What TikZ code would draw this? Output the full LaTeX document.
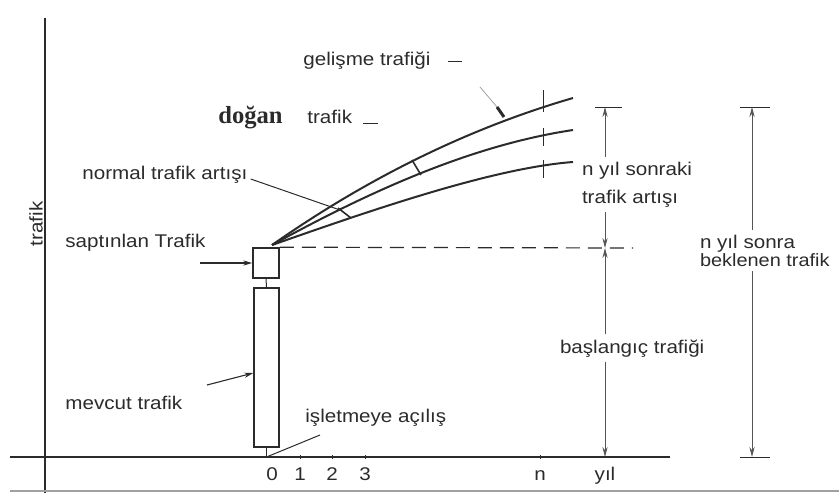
\documentclass[tikz,border=0pt]{standalone}
\usepackage{fontspec}
\setmainfont{Liberation Sans}[FakeStretch=1.12]
\newfontfamily\serifb{Liberation Serif}
\usetikzlibrary{arrows.meta,positioning}
\definecolor{ink}{HTML}{2B2B2B}
\definecolor{dimgray}{HTML}{555555}
\definecolor{edgegray}{HTML}{A0A0A0}

\begin{document}
\begin{tikzpicture}[x=0.5pt,y=-0.5pt,font=\fontsize{9.2}{11}\selectfont,
 lbl/.style={inner sep=0pt,anchor=base west,text=ink},
 num/.style={inner sep=0pt,anchor=base,text=ink},
 dimtxt/.style={lbl,outer xsep=0pt,outer ysep=2.5pt},
 axisln/.style={draw=ink,line width=0.8pt},
 boxn/.style={draw=ink,line width=0.8pt,inner sep=0pt},
 growth/.style={draw=ink,line width=1pt},
 thin/.style={draw=ink,line width=0.5pt},
 dimln/.style={draw=dimgray,line width=0.45pt,-{Stealth[length=5pt,width=2.6pt]}},
 ptr/.style={draw=ink,line width=0.55pt,-{Stealth[length=4.5pt,width=2.6pt]}}]
\useasboundingbox (0,0) rectangle (839,493);
% axes
\coordinate (xl) at (10,457); \coordinate (xr) at (670,457);
\coordinate (yb) at (45,493); \coordinate (yt) at (45,18);
\draw[axisln] (xl) -- (xr);
\draw[axisln] (yb) -- (yt);
\draw[edgegray,line width=1pt] (10,491) -- (839,491);
\node[text=ink,rotate=90,inner sep=0pt] (ylab) at (36,224) {trafik};
\foreach \xx/\tx in {272/0,300/1,332/2,365/3,540/n}
  \node[num] (yr\tx) at (\xx,480) {\tx};
\foreach \xx in {300,332,365,540} \draw[thin] (\xx,455) -- (\xx,459);
\node[num] (yil) at (605,480) {yıl};
% boxes
\node[boxn,minimum width=13pt,minimum height=15pt] (sbox) at (266,263) {};
\node[boxn,minimum width=12.5pt,minimum height=79.5pt] (mbox) at (266.5,367.5) {};
\coordinate (open) at (266.5,457);
\draw[thin] (sbox.south) -- (mbox.north);
\draw[thin] (mbox.south) -- (open);
\node[lbl] (sapt) at (65,247) {saptınlan Trafik};
\coordinate (saptarr) at (200,263);
\draw[ptr] (saptarr) -- (sbox.west);
\node[lbl] (mevc) at (65,409) {mevcut trafik};
\coordinate (mevcarr) at (207,385);
\draw[ptr] (mevcarr) -- ([yshift=-2.75pt]mbox.west);
\node[lbl] (islet) at (305,422) {işletmeye açılış};
\coordinate (isletarr) at (320,435);
\draw[thin] (isletarr) -- (open);
% growth curves
\coordinate (orig) at (272,245);
\draw[growth] (orig) .. controls (372,175) and (473,127) .. (573,98) coordinate (gtop);
\draw[growth] (orig) .. controls (372,190) and (473,145) .. (573,130) coordinate (gmid);
\draw[growth] (orig) .. controls (372,210) and (493,168) .. (573,162) coordinate (gbot);
\foreach \ya/\yb in {90/112,128/146,160/178} \draw[thin] (543,\ya) -- (543,\yb);
\draw[thin,line width=0.8pt] (412,160) -- (421,175);
\draw[thin,line width=0.8pt] (338,208) -- (351,218);
\node[lbl] (gelis) at (303,65) {gelişme trafiği};
\draw[thin] (448,61) -- (462,61);
\node[lbl,font={\serifb\bfseries\fontsize{12.3}{14}\selectfont}] (dogan) at (218,123) {doğan};
\node[lbl] (dtraf) at (307,123) {trafik};
\draw[thin] (363,123) -- (378,123);
\coordinate (gl0) at (480,87); \coordinate (gl1) at (497,107); \coordinate (gl2) at (504,117);
\draw[edgegray,line width=0.4pt] (gl0) -- (gl1);
\draw[ink,line width=1.5pt] (gl1) -- (gl2);
\node[lbl] (norm) at (82,179) {normal trafik artışı};
\coordinate (normend) at (340,210);
\draw[thin] ([xshift=1.5pt]norm.base east) -- (normend);
% dimensions
\coordinate (dashend) at (633,248);
\draw[ink,line width=0.6pt,dash pattern=on 7pt off 4pt] (sbox.north east) -- (dashend);
\node[dimtxt] (nys1) at (582,175) {n yıl sonraki};
\node[dimtxt] (nys2) at (582,203) {trafik artışı};
\coordinate (d1t) at (605,107); \coordinate (d1m) at (605,248); \coordinate (d1b) at (605,457);
\draw[thin] (595,107) -- (622,107);
\draw[dimln] (d1t |- nys1.north) -- (d1t);
\draw[dimln] (d1t |- nys2.south) -- (d1m);
\node[dimtxt] (basl) at (560,353) {başlangıç trafiği};
\draw[dimln] (d1t |- basl.north) -- (d1m);
\draw[dimln] (d1t |- basl.south) -- (d1b);
\node[dimtxt] (bek1) at (700,248) {n yıl sonra};
\node[dimtxt,font=\fontsize{8.9}{11}\selectfont] (bek2) at (700,266) {beklenen trafik};
\coordinate (d2t) at (752,107); \coordinate (d2b) at (752,457);
\draw[thin] (740,107) -- (770,107);
\draw[thin] (740,457) -- (770,457);
\draw[dimln] (d2t |- bek1.north) -- (d2t);
\draw[dimln] (d2t |- bek2.south) -- (d2b);
\end{tikzpicture}
\end{document}
